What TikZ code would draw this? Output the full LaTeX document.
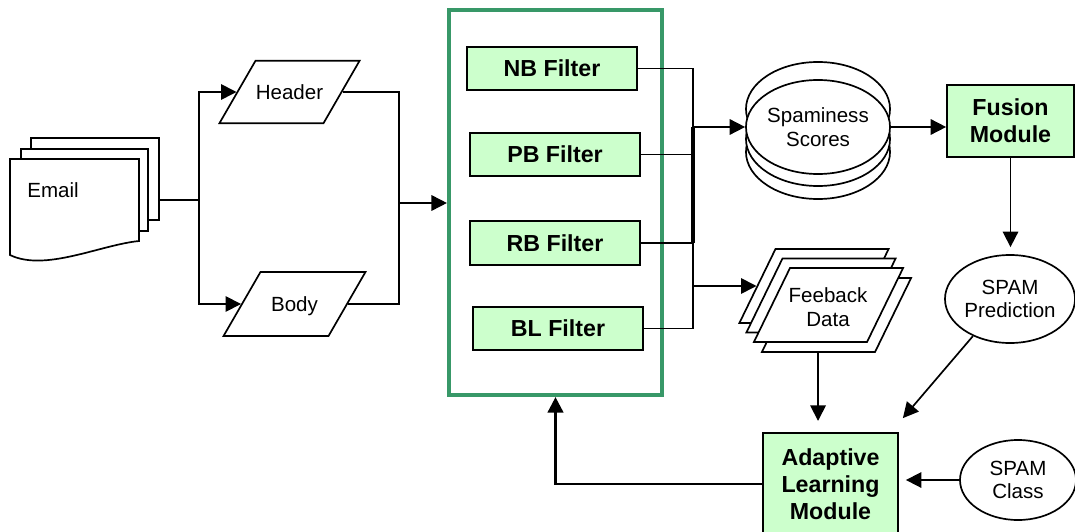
\documentclass[tikz,border=0pt]{standalone}
\usepackage{fontspec}
\setmainfont{Liberation Sans}
\usetikzlibrary{arrows.meta,shapes.geometric}

\definecolor{bankgreen}{RGB}{56,152,104}
\definecolor{filtergreen}{RGB}{204,255,204}

\begin{document}
\begin{tikzpicture}[x=0.025cm,y=-0.025cm,
    every node/.style={font=\fontsize{14.6}{16.6}\selectfont,align=center},
    line/.style={line width=1.2pt},
    arr/.style={line width=1.2pt,-{Triangle[length=11pt,width=11pt]}},
    page/.style={draw,line width=1.2pt,fill=white,minimum width=3.2cm,minimum height=2.05cm},
    data/.style={trapezium,trapezium left angle=60,trapezium right angle=120,
        draw,line width=1.2pt,fill=white,inner sep=0pt,text width=1.7cm,
        text height=0.96cm,text depth=0.6cm},
    sheet/.style={data,trapezium left angle=64,trapezium right angle=116,
        text width=1.925cm,text height=1.85cm,text depth=0cm},
    filter/.style={draw,line width=1.2pt,fill=filtergreen,minimum width=4.25cm,
        minimum height=1.075cm,font=\fontsize{16.5}{19.2}\selectfont\bfseries},
    module/.style={filter,minimum width=3.175cm,minimum height=1.8cm},
    disk/.style={ellipse,draw,line width=1.2pt,fill=white,minimum width=3.6cm,
        minimum height=2.35cm,inner sep=0pt},
    oval/.style={ellipse,draw,line width=1.2pt,fill=white,inner sep=0pt}]
    \useasboundingbox (0,0) rectangle (1075,531);

    % email pages
    \node[page] (email3) at (95,179) {};
    \node[page,minimum width=3.175cm] (email2) at (84.5,190) {};
    \draw[line width=1.2pt,fill=white] (10,159) -- (139,159) -- (139,241)
        .. controls (100,245) and (45,272) .. (10,255) -- cycle;
    \node (email) at (53,190) {Email};

    \node[data] (header) at (289.5,92) {Header};
    \node[data,text height=0.98cm,text depth=0.62cm] (body) at (294.5,304) {Body};

    \coordinate (split) at (199,200);
    \coordinate (join) at (399,203);
    \coordinate (bus) at (693,127);

    \draw[line width=1.9pt] (email3.east |- split) -- (split);
    \draw[arr] (split) |- (header.west);
    \draw[arr] (split) |- (body.west);
    \draw[line] (header.east) -| (join);
    \draw[line] (body.east) -| (join);

    % filter bank
    \node[draw=bankgreen,line width=2.9pt,minimum width=5.325cm,minimum height=9.625cm] (bank) at (555.5,202.5) {};
    \draw[arr] (join) -- (join -| bank.west);
    \node[filter] (nb) at (552,68.5) {NB Filter};
    \node[filter] (pb) at (555,154.5) {PB Filter};
    \node[filter,minimum height=1.1cm] (rb) at (555,243) {RB Filter};
    \node[filter] (bl) at (558,328.5) {BL Filter};

    % spaminess scores
    \node[disk] (sp4) at (818,152) {};
    \node[disk] (sp3) at (818,139) {};
    \node[disk] (sp1) at (818,109) {};
    \node[disk] (spam) at (818,127) {Spaminess\\Scores};

    % feedback data
    \node[sheet] (fb1) at (814,286) {};
    \node[sheet] (fb2) at (821,295.5) {};
    \node[sheet] (fb4) at (836.5,315) {};
    \node[sheet] (fb3) at (828.5,305) {};
    \node (fbtext) at (828,307) {Feeback\\Data};

    \draw[line] (nb.east) -| (bus);
    \draw[line] (pb.east) -| (bus);
    \draw[line] (rb.east) -| (bus);
    \draw[line] (bl.east) -| (bus);
    \draw[line width=2.5pt] (bus) -- (bus |- rb.east);
    \draw[arr] (bus) -- (bus -| spam.west);
    \draw[arr] (bus |- fb1.west) -- (fb1.west);

    \node[module] (fusion) at (1010.5,121) {Fusion\\Module};
    \node[oval,minimum width=3.25cm,minimum height=2.2cm] (pred) at (1010,299) {SPAM\\Prediction};
    \node[module,minimum width=3.375cm,minimum height=2.55cm] (adapt) at (830.5,484) {Adaptive\\Learning\\Module};
    \node[oval,minimum width=2.9cm,minimum height=2cm] (cls) at (1018,480) {SPAM\\Class};

    \draw[arr] (spam.east) -- (spam.east -| fusion.west);
    \draw[arr,shorten >=5pt] (fusion.south) -- (fusion.south |- pred.north);
    \draw[arr,shorten >=8pt] (fb4.bottom side) -- (fb4.bottom side |- adapt.north);
    \draw[arr] (pred.225) -- ([shift={(4,-14)}]adapt.north east);
    \draw[arr,shorten >=5pt] (cls.west) -- (cls.west -| adapt.east);
    \draw[arr,line width=1.9pt] (adapt.west) -| (bank.south);
\end{tikzpicture}
\end{document}
